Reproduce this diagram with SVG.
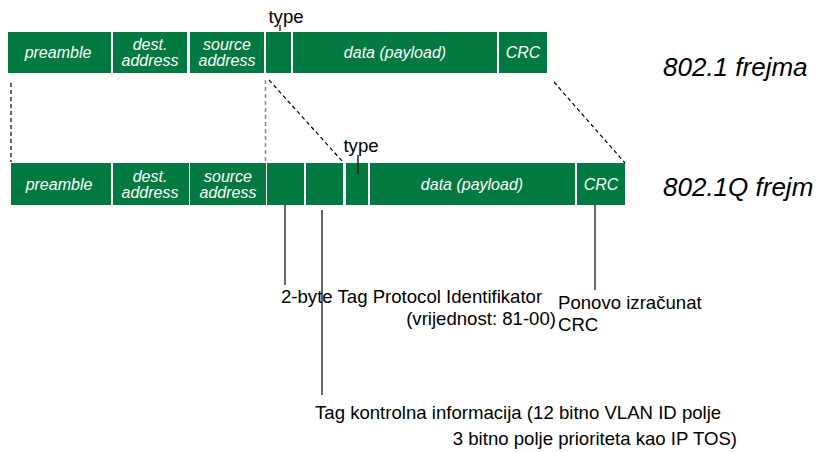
<svg xmlns="http://www.w3.org/2000/svg" width="820" height="452" viewBox="0 0 820 452">
<style>
.f{fill:#017940}
.l{font-family:"Liberation Sans",Arial,sans-serif;font-style:italic;font-size:16px;fill:#fff;text-anchor:middle}
.t{font-family:"Liberation Sans",Arial,sans-serif;font-size:18.6px;fill:#000}
.h{font-family:"Liberation Sans",Arial,sans-serif;font-style:italic;font-size:26px;fill:#000}
.d{stroke:#000;stroke-width:1.2;stroke-dasharray:4 3;fill:none}
.g{stroke:#888;stroke-width:1.5;stroke-dasharray:4 3;fill:none}
.s{stroke:#000;stroke-width:1.2;fill:none}
</style>
<rect width="820" height="452" fill="#fff"/>
<g id="frame1">
<g id="t-preamble"><rect class="f" x="8" y="32" width="103" height="41"/><text class="l" x="58" y="58">preamble</text></g>
<g id="t-dest"><rect class="f" x="113" y="32" width="74" height="41"/><text class="l" x="150" y="50">dest.</text><text class="l" x="150" y="66">address</text></g>
<g id="t-source"><rect class="f" x="190" y="32" width="74" height="41"/><text class="l" x="227" y="50">source</text><text class="l" x="227" y="66">address</text></g>
<g id="t-type"><rect class="f" x="266" y="32" width="25" height="41"/><text class="t" x="286" y="23" text-anchor="middle" font-size="15">type</text><line class="s" x1="280" y1="25" x2="280" y2="31"/></g>
<g id="t-data"><rect class="f" x="293" y="32" width="204" height="41"/><text class="l" x="395" y="58">data (payload)</text></g>
<g id="t-crc"><rect class="f" x="499" y="32" width="48" height="41"/><text class="l" x="523" y="58">CRC</text></g>
<text class="h" x="663" y="76">802.1 frejma</text>
</g>
<g id="frame2">
<g id="b-preamble"><rect class="f" x="11" y="163" width="100" height="42"/><text class="l" x="59" y="190">preamble</text></g>
<g id="b-dest"><rect class="f" x="113" y="163" width="76" height="42"/><text class="l" x="150" y="182">dest.</text><text class="l" x="150" y="198">address</text></g>
<g id="b-source"><rect class="f" x="190" y="163" width="76" height="42"/><text class="l" x="228" y="182">source</text><text class="l" x="228" y="198">address</text></g>
<g id="b-tpid"><rect class="f" x="267" y="163" width="37" height="42"/></g>
<g id="b-tci"><rect class="f" x="306" y="163" width="37" height="42"/></g>
<g id="b-type"><rect class="f" x="346" y="163" width="22" height="42"/><text class="t" x="361" y="152" text-anchor="middle" font-size="15">type</text><line x1="358" y1="155" x2="358" y2="174" stroke="#222" stroke-width="1.5"/></g>
<g id="b-data"><rect class="f" x="370" y="163" width="205" height="42"/><text class="l" x="472" y="190">data (payload)</text></g>
<g id="b-crc"><rect class="f" x="577" y="163" width="48" height="42"/><text class="l" x="601" y="190">CRC</text></g>
<text class="h" x="663" y="196">802.1Q frejm</text>
</g>
<g id="connectors">
<line class="d" x1="11" y1="83" x2="11" y2="162"/>
<line class="g" x1="265.5" y1="80" x2="265.5" y2="163"/>
<line class="d" x1="269" y1="80" x2="343" y2="162"/>
<line class="d" x1="554" y1="82" x2="625" y2="163"/>
<line class="s" x1="285" y1="205" x2="285" y2="285"/>
<line class="s" x1="322" y1="210" x2="322" y2="395"/>
<line class="s" x1="595" y1="205" x2="595" y2="290"/>
</g>
<g id="labels">
<text class="t" x="281" y="303">2-byte Tag Protocol Identifikator</text>
<text class="t" x="556" y="325" text-anchor="end">(vrijednost: 81-00)</text>
<text class="t" x="558" y="309">Ponovo izračunat</text>
<text class="t" x="558" y="331">CRC</text>
<text class="t" x="315" y="419">Tag kontrolna informacija (12 bitno VLAN ID polje</text>
<text class="t" x="737" y="445" text-anchor="end">3 bitno polje prioriteta kao IP TOS)</text>
</g>
</svg>
